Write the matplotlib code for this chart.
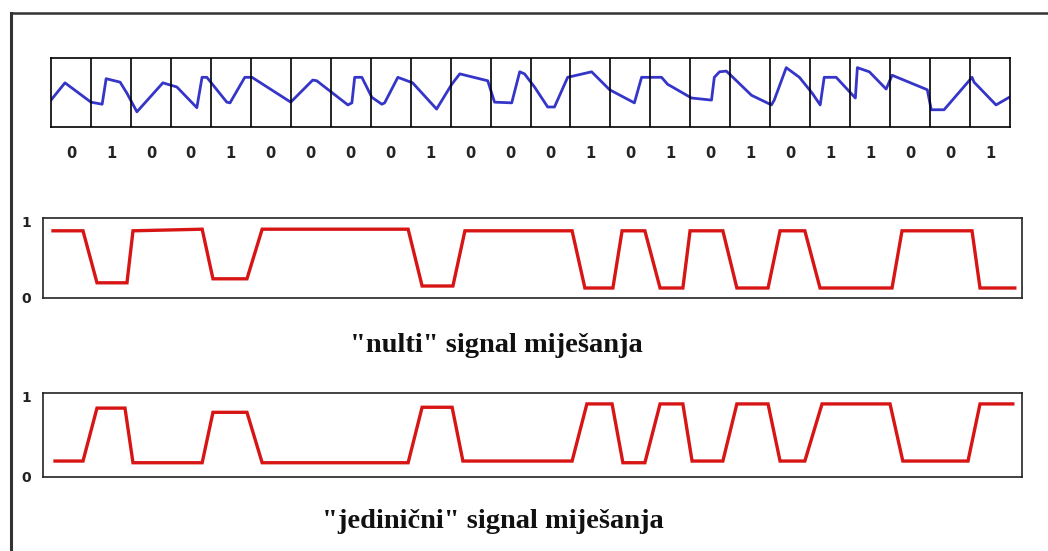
import matplotlib.pyplot as plt
from matplotlib.lines import Line2D

# bits under the carrier strip
bits = [0, 1, 0, 0, 1, 0, 0, 0, 0, 1, 0, 0, 0, 1, 0, 1, 0, 1, 0, 1, 1, 0, 0, 1]

# blue carrier wave (t in bit periods, level 0..1 inside strip)
wave_t = [0.0, 0.35, 1.0, 1.28, 1.38, 1.73, 1.9, 2.15, 2.8, 3.15, 3.65, 3.78, 3.9,
          4.4, 4.48, 4.85, 5.03, 6.0, 6.55, 6.65, 7.43, 7.53, 7.6, 7.78, 8.03, 8.28,
          8.35, 8.68, 9.05, 9.65, 10.03, 10.23, 10.93, 11.1, 11.53, 11.73, 11.85,
          12.1, 12.43, 12.6, 12.93, 13.53, 13.98, 14.6, 14.78, 15.28, 15.43, 16.03,
          16.53, 16.6, 16.73, 16.9, 17.03, 17.53, 18.03, 18.1, 18.4, 18.73, 19.05,
          19.25, 19.35, 19.65, 20.13, 20.18, 20.48, 20.9, 21.05, 21.93, 22.03, 22.35,
          23.05, 23.1, 23.65, 23.98]
wave_y = [0.39, 0.64, 0.36, 0.33, 0.70, 0.65, 0.49, 0.22, 0.64, 0.58, 0.28, 0.72, 0.72,
          0.36, 0.35, 0.72, 0.72, 0.36, 0.68, 0.67, 0.32, 0.35, 0.72, 0.72, 0.43, 0.33,
          0.35, 0.72, 0.64, 0.26, 0.62, 0.77, 0.67, 0.36, 0.35, 0.80, 0.77,
          0.58, 0.29, 0.29, 0.72, 0.80, 0.54, 0.35, 0.72, 0.72, 0.62, 0.42,
          0.39, 0.72, 0.80, 0.81, 0.74, 0.46, 0.32, 0.39, 0.86, 0.72, 0.49,
          0.32, 0.72, 0.72, 0.42, 0.86, 0.80, 0.55, 0.75, 0.54, 0.25, 0.25,
          0.72, 0.65, 0.32, 0.43]

# "nulti" mixing signal
nul_t = [0.05, 0.8, 1.15, 1.9, 2.05, 3.78, 4.05, 4.9, 5.28, 8.93, 9.28, 10.05, 10.35,
         13.03, 13.35, 14.05, 14.28, 14.85, 15.23, 15.8, 15.98, 16.8, 17.15, 17.93,
         18.23, 18.85, 19.23, 21.03, 21.28, 23.03, 23.23, 24.1]
nul_y = [0.84, 0.84, 0.19, 0.19, 0.84, 0.86, 0.24, 0.24, 0.86, 0.86, 0.15, 0.15, 0.84,
         0.84, 0.125, 0.125, 0.84, 0.84, 0.125, 0.125, 0.84, 0.84, 0.125, 0.125,
         0.84, 0.84, 0.125, 0.125, 0.84, 0.84, 0.125, 0.125]

# "jedinicni" mixing signal
jed_t = [0.1, 0.8, 1.15, 1.85, 2.05, 3.78, 4.05, 4.9, 5.28, 8.93, 9.28, 10.03, 10.3,
         13.03, 13.4, 14.03, 14.3, 14.85, 15.23, 15.8, 16.03, 16.8, 17.15, 17.93,
         18.23, 18.85, 19.28, 20.98, 21.3, 22.93, 23.23, 24.05]
jed_y = [0.19, 0.19, 0.82, 0.82, 0.17, 0.17, 0.77, 0.77, 0.17, 0.17, 0.83, 0.83, 0.19,
         0.19, 0.87, 0.87, 0.17, 0.17, 0.87, 0.87, 0.19, 0.19, 0.87, 0.87,
         0.19, 0.19, 0.87, 0.87, 0.19, 0.19, 0.87, 0.87]

W, H = 1048, 551
fig = plt.figure(figsize=(W / 100, H / 100), dpi=100)


def box(x0, y0, x1, y1):
    # pixel box -> figure fraction rect
    return [x0 / W, 1 - y1 / H, (x1 - x0) / W, (y1 - y0) / H]


# outer frame (left + top)
fig.add_artist(Line2D([11 / W, 11 / W], [0, 1 - 13 / H], color='#333333', lw=2.2))
fig.add_artist(Line2D([11 / W, 1], [1 - 13 / H, 1 - 13 / H], color='#333333', lw=1.8))

# carrier strip
ax = fig.add_axes(box(51, 58, 1010, 127))
ax.plot(wave_t, wave_y, color='#3535c8', lw=2.0, solid_joinstyle='round')
for i in range(1, len(bits)):
    ax.axvline(i, color='black', lw=1.2)
for i, b in enumerate(bits):
    ax.text(i + 0.5, -0.39, str(b), ha='center', va='center', fontsize=10.5,
            fontweight='bold', color='#222222')
ax.set_xlim(0, len(bits))
ax.set_ylim(0, 1)
ax.set_xticks([])
ax.set_yticks([])
for s in ax.spines.values():
    s.set_linewidth(1.2)

red = '#d81515'
panels = [(218, 298, nul_t, nul_y, '"nulti" signal miješanja', 345, 496),
          (393, 477, jed_t, jed_y, '"jedinični" signal miješanja', 521, 493)]
for top, bot, t, y, caption, cy, cx in panels:
    a = fig.add_axes(box(43, top, 1022, bot))
    a.plot(t, y, color=red, lw=2.4, solid_joinstyle='miter')
    a.set_xlim(-0.2, 24.28)
    a.set_ylim(0, 1)
    a.set_xticks([])
    a.set_yticks([])
    for s in a.spines.values():
        s.set_linewidth(1.2)
        s.set_color('#222222')
    fig.text(26 / W, 1 - (top + 5) / H, '1', ha='center', va='center', fontsize=10,
             fontweight='bold', color='#222222')
    fig.text(26 / W, 1 - (bot + 1) / H, '0', ha='center', va='center', fontsize=10,
             fontweight='bold', color='#222222')
    fig.text(cx / W, 1 - cy / H, caption, ha='center', va='center', fontsize=20.5,
             fontweight='bold', family='Liberation Serif', color='#111111')

fig.savefig('out.png', dpi=100)
